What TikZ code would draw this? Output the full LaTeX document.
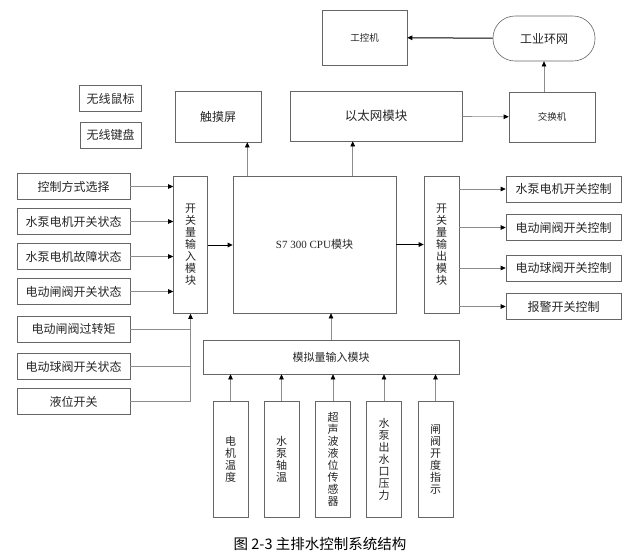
\documentclass[tikz,border=0pt]{standalone}
\usepackage{fontspec}
\setmainfont{Noto Sans CJK SC}
\newfontfamily\latinrm{Liberation Serif}
\usepackage{xcolor}
\usepackage{tikz}
\usetikzlibrary{arrows.meta,positioning}

\begin{document}
\begin{tikzpicture}[
  x=1pt, y=-1pt,
  box/.style={draw=black!60, line width=0.6pt, inner sep=1pt, align=center, text=black!85, font=\fontsize{12}{12}\selectfont},
  inbox/.style={box, minimum width=113pt, minimum height=26pt},
  outbox/.style={box, minimum width=115pt, minimum height=26pt},
  modbox/.style={box, minimum width=34pt, minimum height=137pt, font=\fontsize{11}{12}\selectfont},
  sensor/.style={box, minimum width=35pt, minimum height=116pt, font=\fontsize{11}{12}\selectfont},
  arr/.style={-{Triangle[length=5pt,width=4.5pt,black]}, black!45, line width=0.6pt},
  barr/.style={-{Triangle[length=5pt,width=4.5pt,black]}, black, line width=1pt}
]
  \useasboundingbox (0,0) rectangle (634,558);

  \node[box, minimum width=102pt, minimum height=45pt, rounded corners=22pt] (ring) at (544,38.5) {工业环网};
  \node[box, minimum width=85pt, minimum height=55pt, font=\fontsize{9.5}{10}\selectfont] (ipc) at (364.5,37.5) {工控机};
  \node[box, minimum width=86pt, minimum height=50pt, font=\fontsize{9.5}{10}\selectfont] (sw) at (552,117) {交换机};
  \node[box, minimum width=172pt, minimum height=50pt, font=\fontsize{12.5}{12}\selectfont] (eth) at (376,116) {以太网模块};
  \node[box, minimum width=86pt, minimum height=51pt, font=\fontsize{12}{12}\selectfont] (touch) at (218,116.5) {触摸屏};
  \node[box, minimum width=62pt, minimum height=26pt] (mouse) at (110.5,98.5) {无线鼠标};
  \node[box, minimum width=61pt, minimum height=26pt] (kbd) at (110.5,135) {无线键盘};

  \node[box, minimum width=163pt, minimum height=137pt, font=\fontsize{11}{12}\selectfont] (cpu) at (314.5,244.5) {{\latinrm S7 300 CPU}模块};
  \node[modbox] (inmod) at (190.5,245) {开\\关\\量\\输\\入\\模\\块};
  \node[modbox, minimum width=35pt] (outmod) at (441.5,244.5) {开\\关\\量\\输\\出\\模\\块};
  \node[box, minimum width=256pt, minimum height=34pt, font=\fontsize{11}{12}\selectfont] (ana) at (331,357) {模拟量输入模块};

  \node[inbox] (ctrl) at (73.5,186.5) {控制方式选择};
  \node[inbox] (pmpsw) at (73.5,221.5) {水泵电机开关状态};
  \node[inbox] (pmpft) at (73.5,256.5) {水泵电机故障状态};
  \node[inbox] (gvsw) at (73.5,291.5) {电动闸阀开关状态};
  \node[inbox] (gvtq) at (73.5,329) {电动闸阀过转矩};
  \node[inbox] (bvsw) at (73.5,366.5) {电动球阀开关状态};
  \node[inbox] (level) at (73.5,401.5) {液位开关};

  \node[outbox] (pmpctl) at (563.5,189) {水泵电机开关控制};
  \node[outbox] (gvctl) at (563.5,227.5) {电动闸阀开关控制};
  \node[outbox] (bvctl) at (563.5,268) {电动球阀开关控制};
  \node[outbox] (alarm) at (563.5,306.5) {报警开关控制};

  \node[sensor] (s1) at (230.5,459) {电\\机\\温\\度};
  \node[sensor] (s2) at (281.5,459) {水\\泵\\轴\\温};
  \node[sensor] (s3) at (333,459) {超\\声\\波\\液\\位\\传\\感\\器};
  \node[sensor] (s4) at (384,459) {水\\泵\\出\\水\\口\\压\\力};
  \node[sensor] (s5) at (435.5,459) {闸\\阀\\开\\度\\指\\示};

  \node[font=\fontsize{14.5}{15}\selectfont] (cap) at (320,544) {图 2-3 主排水控制系统结构};

  \coordinate (tpin) at ([xshift=-14pt]touch.south east);
  \coordinate (ethin) at ([xshift=63pt]eth.south west);

  \draw[barr] (ring) -- (ipc);
  \draw[arr] (ring.south |- sw.north) -- (ring.south);
  \draw[arr] (eth) -- (sw);
  \draw[arr] (ethin |- cpu.north) -- (ethin);
  \draw[arr] (tpin |- cpu.north) -- (tpin);

  \draw[arr] (ctrl) -- (ctrl -| inmod.west);
  \draw[arr] (pmpsw) -- (pmpsw -| inmod.west);
  \draw[arr] (pmpft) -- (pmpft -| inmod.west);
  \draw[arr] (gvsw) -- (gvsw -| inmod.west);
  \draw[black!45, line width=0.6pt] (gvtq.east) -- (gvtq -| inmod.south);
  \draw[black!45, line width=0.6pt] (bvsw.east) -- (bvsw -| inmod.south);
  \draw[arr] (level.east) -| (inmod.south);

  \draw[barr] (inmod) -- (inmod -| cpu.west);
  \draw[barr] (cpu.east |- outmod) -- (outmod);

  \draw[arr] (outmod.east |- pmpctl) -- (pmpctl);
  \draw[arr] (outmod.east |- gvctl) -- (gvctl);
  \draw[arr] (outmod.east |- bvctl) -- (bvctl);
  \draw[arr] (outmod.east |- alarm) -- (alarm);

  \draw[arr] (ana.north) -- (ana.north |- cpu.south);
  \foreach \s in {s1,s2,s3,s4,s5}
    \draw[arr] (\s.north) -- (\s.north |- ana.south);
\end{tikzpicture}
\end{document}
